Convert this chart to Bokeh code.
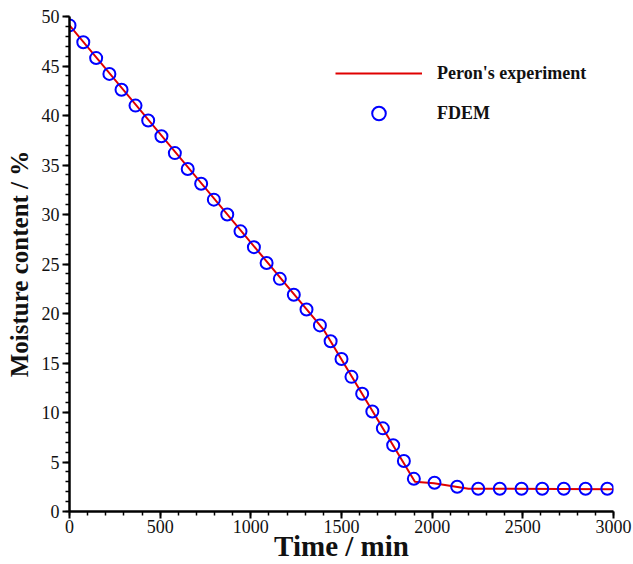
from bokeh.plotting import figure
from bokeh.models import Range1d, FixedTicker, Legend, LegendItem
from bokeh.embed import file_html
from bokeh.resources import INLINE

# Peron's experiment (line)
exp_time = [0, 1400, 1905, 2010, 2200, 3000]
exp_moist = [49.1, 18.4, 3.0, 2.85, 2.3, 2.25]

# FDEM (circles)
fdem_time = [0, 76, 147, 220, 287, 364, 434, 507, 581, 652, 726, 796, 870, 943,
             1017, 1087, 1160, 1237, 1307, 1381, 1440, 1500, 1555, 1614, 1670,
             1728, 1785, 1844, 1899, 2013, 2138, 2254, 2373, 2493, 2607, 2726,
             2846, 2966]
fdem_moist = [49.1, 47.4, 45.8, 44.2, 42.6, 41.0, 39.5, 37.9, 36.2, 34.6, 33.1,
              31.5, 30.0, 28.3, 26.7, 25.1, 23.5, 21.9, 20.4, 18.8, 17.2, 15.4,
              13.6, 11.9, 10.1, 8.4, 6.7, 5.1, 3.3, 2.9, 2.5, 2.3, 2.3, 2.3, 2.3,
              2.3, 2.3, 2.3]

x_ticks = [0, 500, 1000, 1500, 2000, 2500, 3000]
x_minor = list(range(0, 3001, 100))
y_ticks = [0, 5, 10, 15, 20, 25, 30, 35, 40, 45, 50]
y_minor = list(range(0, 51, 1))

FONT = "Liberation Serif"

p = figure(width=633, height=564, output_backend="svg", toolbar_location=None,
           x_range=Range1d(0, 3000), y_range=Range1d(0, 50),
           min_border_left=69, min_border_right=20, min_border_top=16,
           min_border_bottom=51)
p.outline_line_color = None
p.xgrid.visible = False
p.ygrid.visible = False
p.background_fill_color = "white"
p.border_fill_color = "white"

ln = p.line(exp_time, exp_moist, line_color="#e00000", line_width=2)
pts = p.scatter(fdem_time, fdem_moist, marker="circle", size=12,
                fill_color=None, line_color="#0000ff", line_width=2)

p.xaxis.ticker = FixedTicker(ticks=x_ticks, minor_ticks=x_minor)
p.yaxis.ticker = FixedTicker(ticks=y_ticks, minor_ticks=y_minor)
p.xaxis.axis_label = "Time / min"
p.yaxis.axis_label = "Moisture content / %"

for ax in (p.xaxis[0], p.yaxis[0]):
    ax.axis_line_width = 2.5
    ax.axis_line_color = "black"
    ax.major_tick_line_width = 2
    ax.minor_tick_line_width = 1.5
    ax.major_tick_in = 0
    ax.major_tick_out = 7
    ax.minor_tick_in = 0
    ax.minor_tick_out = 4
    ax.major_label_text_font = FONT
    ax.major_label_text_font_size = "18px"
    ax.major_label_text_color = "#111111"
    ax.axis_label_text_font = FONT
    ax.axis_label_text_font_style = "bold"
    ax.axis_label_text_color = "#111111"

p.xaxis.major_label_standoff = 1
p.xaxis.axis_label_text_font_size = "29px"
p.xaxis.axis_label_standoff = -6
p.yaxis.major_label_standoff = 3
p.yaxis.axis_label_text_font_size = "25px"
p.yaxis.axis_label_standoff = 6

legend = Legend(items=[LegendItem(label="Peron's experiment", renderers=[ln]),
                       LegendItem(label="FDEM", renderers=[pts])],
                location=(266, 381), orientation="vertical",
                border_line_color=None, background_fill_alpha=0,
                padding=0, margin=0, spacing=6, glyph_width=87, glyph_height=34,
                label_standoff=15, label_height=34,
                label_text_font=FONT, label_text_font_style="bold",
                label_text_font_size="18px", label_text_color="#111111")
p.add_layout(legend)

open("out.html", "w").write(file_html(p, INLINE))
